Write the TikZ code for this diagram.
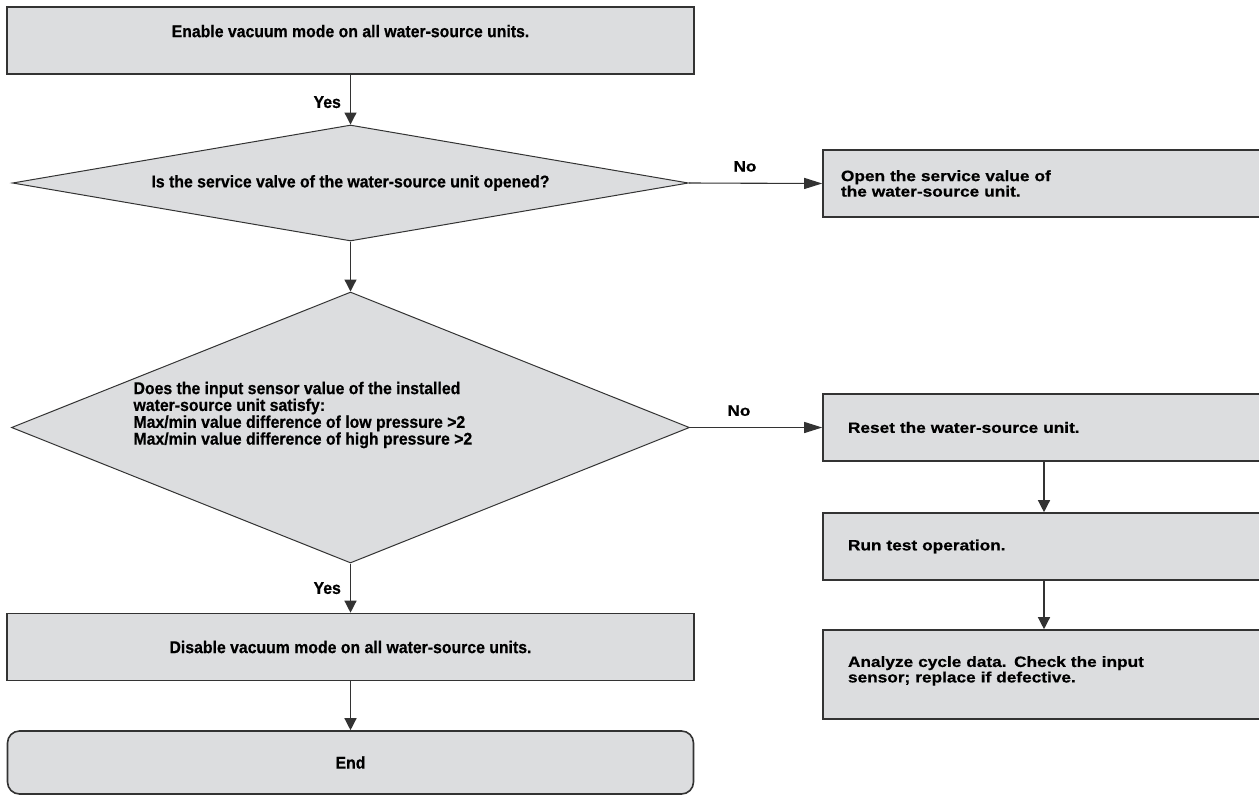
\documentclass[tikz,border=0pt]{standalone}
\usepackage{fontspec}
\setmainfont{Liberation Sans}[FakeStretch=0.93, BoldFeatures={FakeBold=0.6}]
\newfontfamily\widefont{Liberation Sans}[FakeStretch=1.15, BoldFeatures={FakeBold=0.6}]
\usetikzlibrary{positioning,arrows.meta,shapes.geometric}
\definecolor{boxfill}{HTML}{DCDDDF}
\definecolor{boxline}{HTML}{333333}
\newcommand{\condtext}{\bfseries\fontsize{17}{15.5}\selectfont}
\newcommand{\widetext}{\widefont\bfseries\fontsize{15}{15.5}\selectfont}
\tikzset{
  stepbox/.style ={draw=boxline, line width=1.6pt, fill=boxfill, minimum width=687pt,
                   minimum height=67pt, inner sep=0pt, font=\condtext},
  sidebox/.style ={stepbox, minimum width=442pt, text width=392pt, inner xsep=25pt,
                   align=left, font=\widetext},
  endbox/.style  ={stepbox, minimum width=686pt, minimum height=63pt, rounded corners=12pt},
  decision/.style={diamond, draw=boxline, line width=1pt, fill=boxfill, inner sep=0pt,
                   font=\condtext},
  yn/.style      ={font=\condtext, inner sep=0pt},
  flow/.style    ={-{Triangle[length=12pt,width=12pt]}, line width=1.3pt, draw=boxline},
  sideflow/.style={-{Triangle[length=18pt,width=11pt]}, line width=1.1pt, draw=boxline},
}

\begin{document}
\begin{tikzpicture}[x=1pt, y=-1pt]
  \useasboundingbox (0,0) rectangle (1259,796);
  % left column
  \node[stepbox, text depth=19pt] (enable) at (350.5,40.5) {Enable vacuum mode on all water-source units.};
  \node[decision, minimum width=676pt, minimum height=116pt, shape aspect=5.8] (valve) at (350.5,183)
       {Is the service valve of the water-source unit opened?};
  \node[decision, minimum width=678pt, minimum height=271pt] (sensor) at (350.5,427.5) {};
  \node[font=\condtext, align=left, anchor=west] (sensortext) at (130,415)
       {Does the input sensor value of the installed\\
        water-source unit satisfy:\\
        Max/min value difference of low pressure >2\\
        Max/min value difference of high pressure >2};
  \node[stepbox] (disable) at (350.5,647) {Disable vacuum mode on all water-source units.};
  \node[endbox] (finish) at (350.5,762.5) {End};
  % right column
  \node[sidebox, inner xsep=18pt, text width=406pt] (openvalve) at (1044,183.5)
       {Open the service value of\\the water-source unit.};
  \node[sidebox] (reset) at (1044,427.5) {Reset the water-source unit.};
  \node[sidebox] (runtest) at (1044,546.5) {Run test operation.};
  \node[sidebox, minimum height=89pt, text depth=26pt] (analyze) at (1044,674.5)
       {Analyze cycle data. Check the input\\sensor; replace if defective.};

  \draw[flow] (enable.south) -- node[yn, left=9pt, pos=0.55] (yes1) {Yes} (valve.north);
  \draw[flow] (valve.south) -- (sensor.north);
  \draw[flow] (sensor.south) -- node[yn, left=9pt, pos=0.5] (yes2) {Yes} (disable.north);
  \draw[flow] (disable) -- (finish);
  \draw[sideflow] (valve.east) -- node[yn, font=\widetext, above=11pt, pos=0.42] (no1) {No} (openvalve.west);
  \draw[sideflow] (sensor.east) -- node[yn, font=\widetext, above=11pt, pos=0.37] (no2) {No} (reset.west);
  \draw[flow] (reset) -- (runtest);
  \draw[flow] (runtest) -- (analyze);
\end{tikzpicture}
\end{document}
